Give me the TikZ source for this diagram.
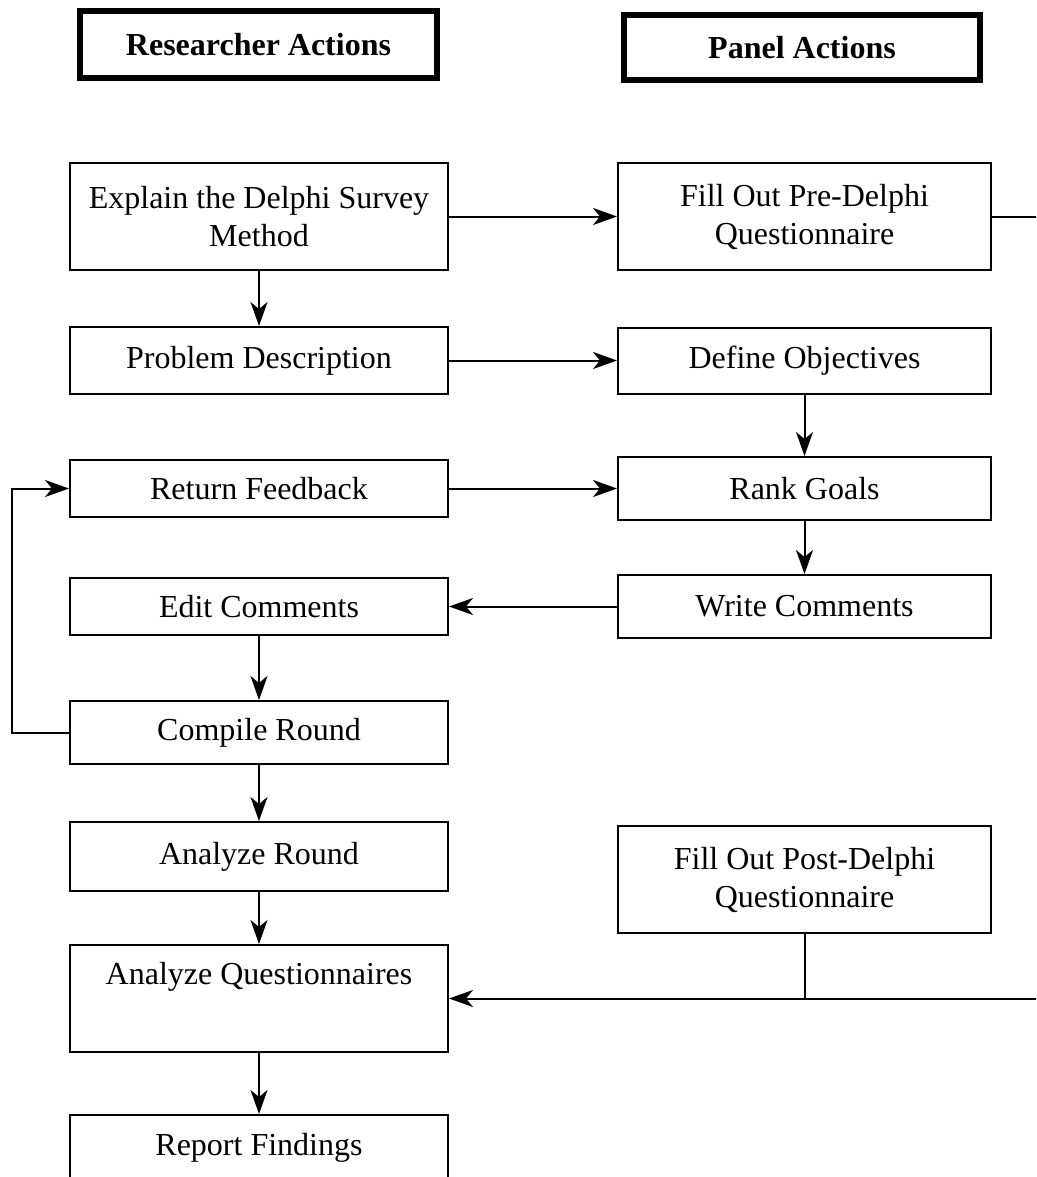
\documentclass[tikz,border=0pt]{standalone}
\usepackage{fontspec}
\setmainfont{Liberation Serif}
\usetikzlibrary{arrows.meta,calc}
\begin{document}
\begin{tikzpicture}[x=1pt,y=-1pt,
  box/.style={draw=black, line width=2pt, minimum width=378pt, inner sep=0pt, align=center,
    font=\fontsize{32pt}{38pt}\selectfont},
  pbox/.style={box, minimum width=373pt},
  head/.style={draw=black, line width=6pt, inner sep=0pt, font=\fontsize{32pt}{38pt}\selectfont\bfseries},
  conn/.style={line width=2pt},
  arr/.style={conn, -{Stealth[length=24pt,width=17pt,inset=7pt]}}]
\useasboundingbox (0,0) rectangle (1036,1177);
\clip (0,0) rectangle (1036,1177);
\fill[white] (0,0) rectangle (1036,1177);
% headers
\node[head, minimum width=357pt, minimum height=67pt] (hr) at (258.5,44.5) {Researcher Actions};
\node[head, minimum width=356pt, minimum height=65pt] (hp) at (802,47.5) {Panel Actions};
% researcher column
\node[box, minimum height=107pt] (ex) at (259,216.5) {Explain the Delphi Survey\\Method};
\node[box, minimum height=67pt] (pd) at (259,360.5) {Problem Description};
\node[box, minimum height=57pt] (rf) at (259,488.5) {Return Feedback};
\node[box, minimum height=57pt] (ec) at (259,606.5) {Edit Comments};
\node[box, minimum height=63pt] (cr) at (259,732.5) {Compile Round};
\node[box, minimum height=69pt] (ar) at (259,856.5) {Analyze Round};
\node[box, minimum height=107pt] (aq) at (259,998.5) {};
\node[anchor=base, inner sep=0pt, font=\fontsize{32pt}{38pt}\selectfont] (aqt) at (259,984) {Analyze Questionnaires};
\node[box, minimum height=66pt] (rpf) at (259,1148) {Report Findings};
% panel column
\node[pbox, minimum height=107pt] (fpre) at (804.5,216.5) {Fill Out Pre-Delphi\\Questionnaire};
\node[pbox, minimum height=66pt] (do) at (804.5,360.5) {Define Objectives};
\node[pbox, minimum height=63pt] (rg) at (804.5,488.5) {Rank Goals};
\node[pbox, minimum height=63pt] (wc) at (804.5,606.5) {Write Comments};
\node[pbox, minimum height=107pt] (pod) at (804.5,879.5) {Fill Out Post-Delphi\\Questionnaire};
% off-page coordinates
\coordinate (e1) at (1042,216.5);
\coordinate (e2) at (1042,998.5);
\coordinate (lp) at (12,0);
% connectors
\draw[arr] (ex.east) -- (fpre.west);
\draw[conn] (fpre.east) -- (e1);
\draw[arr] (ex.south) -- (pd.north);
\draw[arr] (pd.east) -- (do.west);
\draw[arr] (do.south) -- (rg.north);
\draw[arr] (rf.east) -- (rg.west);
\draw[arr] (rg.south) -- (wc.north);
\draw[arr] (wc.west) -- (ec.east);
\draw[arr] (ec.south) -- (cr.north);
\draw[arr] (cr.west) -- (lp |- cr.west) -- (lp |- rf.west) -- (rf.west);
\draw[arr] (cr.south) -- (ar.north);
\draw[arr] (ar.south) -- (aq.north);
\draw[arr] (e2) -- (aq.east);
\draw[conn] (pod.south) -- (pod.south |- aq.east);
\draw[arr] (aq.south) -- (rpf.north);
\end{tikzpicture}
\end{document}
